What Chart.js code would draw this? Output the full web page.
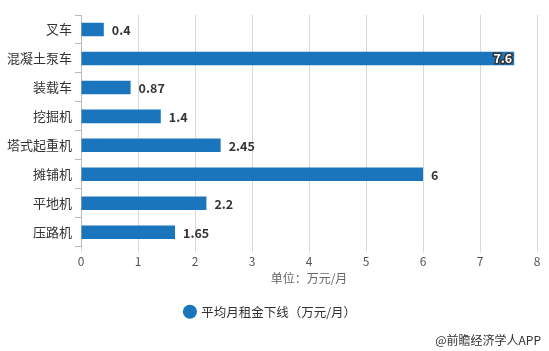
<!DOCTYPE html>
<html>
<head>
<meta charset="utf-8">
<script src="https://cdn.jsdelivr.net/npm/chart.js@4"></script>
<style>
    html, body { margin: 0; padding: 0; background: #fff; }
    #wrap { position: relative; width: 549px; height: 351px; }
    #credit {
        position: absolute; right: 8px; top: 331px;
        font: 12px "Noto Sans CJK SC", sans-serif; color: #333;
    }
</style>
</head>
<body>
<div id="wrap">
    <canvas id="rentChart" width="549" height="351"></canvas>
    <div id="credit">@前瞻经济学人APP</div>
</div>
<script>
const categories = ['叉车', '混凝土泵车', '装载车', '挖掘机', '塔式起重机', '摊铺机', '平地机', '压路机'];
const rentValues = [0.4, 7.6, 0.87, 1.4, 2.45, 6, 2.2, 1.65];
const valueLabels = ['0.4', '7.6', '0.87', '1.4', '2.45', '6', '2.2', '1.65'];
const seriesName = '平均月租金下线（万元/月）';
const axisTitle = '单位：万元/月';

const FONT = '"Noto Sans CJK SC", "Noto Sans", sans-serif';
const BAR_COLOR = '#1b75bc';

// value labels at the end of each bar; the longest one sits inside the bar
const barLabels = {
    id: 'barLabels',
    afterDatasetsDraw(chart) {
        const ctx = chart.ctx;
        const meta = chart.getDatasetMeta(0);
        ctx.save();
        ctx.font = 'bold 12.5px ' + FONT;
        ctx.textBaseline = 'middle';
        meta.data.forEach((bar, i) => {
            const text = valueLabels[i];
            if (rentValues[i] > 7) {
                ctx.textAlign = 'right';
                ctx.lineWidth = 3;
                ctx.strokeStyle = '#333';
                ctx.strokeText(text, bar.x - 2, bar.y);
                ctx.fillStyle = '#fff';
                ctx.fillText(text, bar.x - 2, bar.y);
            } else {
                ctx.textAlign = 'left';
                ctx.fillStyle = '#333';
                ctx.fillText(text, bar.x + 8, bar.y + 1);
            }
        });
        ctx.restore();
    }
};

new Chart(document.getElementById('rentChart').getContext('2d'), {
    type: 'bar',
    data: {
        labels: categories,
        datasets: [{
            label: seriesName,
            data: rentValues,
            backgroundColor: BAR_COLOR,
            borderWidth: 0,
            categoryPercentage: 0.9,
            barPercentage: 0.52
        }]
    },
    options: {
        indexAxis: 'y',
        responsive: false,
        animation: false,
        layout: { padding: { top: 15, right: 12, bottom: 23, left: 4 } },
        plugins: {
            legend: {
                position: 'bottom',
                labels: {
                    usePointStyle: true,
                    pointStyle: 'circle',
                    boxWidth: 10,
                    boxHeight: 10,
                    padding: 12,
                    color: '#333',
                    font: { family: FONT, size: 12.5 }
                }
            },
            tooltip: { enabled: false }
        },
        scales: {
            x: {
                min: 0,
                max: 8,
                ticks: { stepSize: 1, color: '#555', font: { family: FONT, size: 12 }, padding: 2 },
                grid: { color: '#d9d9d9', tickLength: 6 },
                border: { display: false },
                title: {
                    display: true,
                    text: axisTitle,
                    color: '#666',
                    font: { family: FONT, size: 12 },
                    padding: { top: 0, bottom: 8 }
                }
            },
            y: {
                ticks: { color: '#333', font: { family: FONT, size: 13 }, padding: 3 },
                grid: { display: true, drawOnChartArea: false, color: '#bbb', tickLength: 6 },
                border: { display: true, color: '#bbb' }
            }
        }
    },
    plugins: [barLabels]
});
</script>
</body>
</html>
